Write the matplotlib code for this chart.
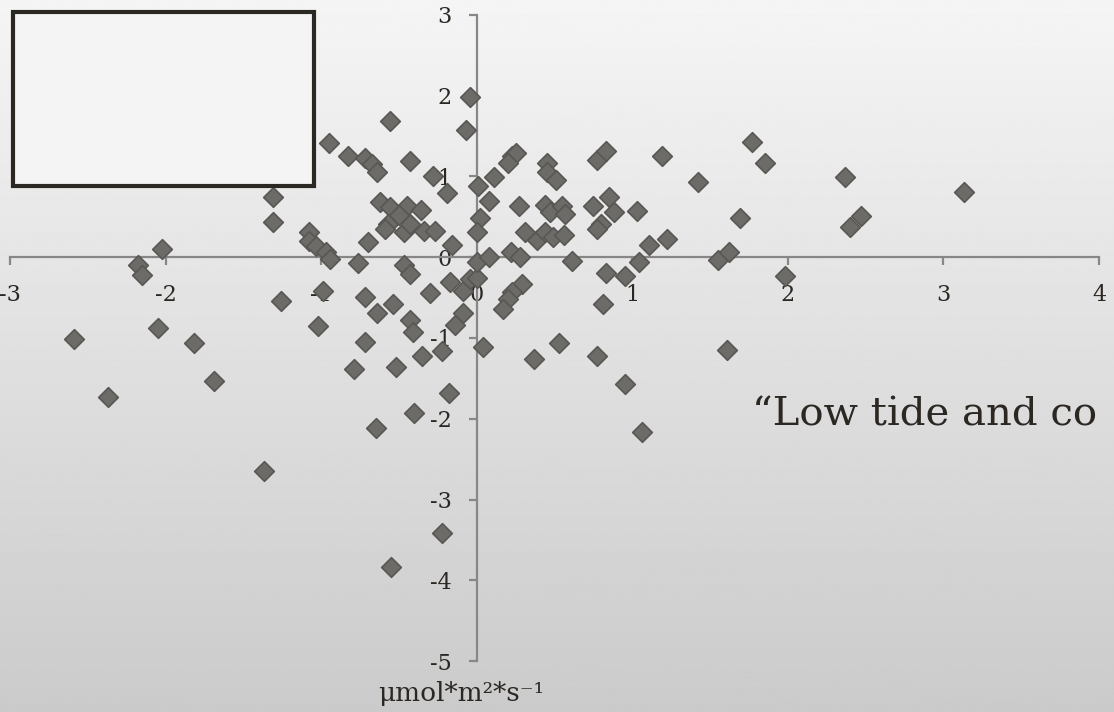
import numpy as np
import matplotlib
matplotlib.use("Agg")
import matplotlib.pyplot as plt
from matplotlib.patches import Rectangle

# scatter values (x, y pairs)
x_vals = [-2.18, -2.15, -2.02, -2.59, -2.37, -2.05, -1.82, -1.69, -1.37, -1.26,
          -1.31, -1.31, -1.02, -0.99, -1.08, -1.08, -1.03, -0.97, -0.94, -0.95,
          -0.83, -0.72, -0.67, -0.64, -0.56, -0.43, -0.28, -0.19, -0.07, -0.04,
          -0.76, -0.72, -0.64, -0.72, -0.79, -0.54, -0.43, -0.41, -0.52, -0.35,
          -0.22, -0.18, -0.40, -0.65, -0.22, -0.55, -0.30, -0.47, -0.43, -0.17,
          -0.09, -0.09, -0.14, 0.04, -0.04, 0.00, 0.00, 0.08, -0.70, -0.62,
          -0.56, -0.45, -0.36, -0.57, -0.59, -0.47, -0.43, -0.34, -0.27, -0.16,
          -0.50, 0.01, 0.11, 0.08, 0.02, 0.00, 0.23, 0.25, 0.20, 0.27,
          0.31, 0.39, 0.44, 0.49, 0.56, 0.22, 0.28, 0.45, 0.45, 0.51,
          0.44, 0.47, 0.55, 0.57, 0.61, 0.75, 0.85, 0.88, 0.80, 0.77,
          0.77, 0.83, 1.03, 1.11, 1.22, 1.19, 1.42, 1.69, 1.77, 1.85,
          1.55, 1.62, 1.98, 2.37, 2.47, 2.40, 3.13, 0.83, 0.95, 1.04,
          0.81, 0.37, 0.53, 0.77, 0.95, 1.06, 1.61, 0.29, 0.23, 0.20,
          0.17]
y_vals = [-0.09, -0.22, 0.10, -1.01, -1.73, -0.88, -1.06, -1.53, -2.65, -0.54,
          0.74, 0.44, -0.85, -0.42, 0.31, 0.20, 0.14, 0.07, -0.02, 1.42,
          1.25, 1.23, 1.15, 1.05, 1.69, 1.19, 1.00, 0.79, 1.57, 1.99,
          -0.07, -0.49, -0.69, -1.05, -1.38, -0.58, -0.78, -0.93, -1.36, -1.22,
          -1.16, -1.68, -1.93, -2.11, -3.42, -3.83, -0.44, -0.10, -0.21, -0.31,
          -0.42, -0.69, -0.84, -1.11, -0.27, -0.26, -0.06, 0.00, 0.19, 0.69,
          0.62, 0.63, 0.59, 0.41, 0.35, 0.31, 0.41, 0.32, 0.32, 0.15,
          0.52, 0.88, 0.99, 0.70, 0.49, 0.31, 1.25, 1.29, 1.17, 0.63,
          0.31, 0.21, 0.31, 0.25, 0.28, 0.07, 0.00, 1.17, 1.06, 0.96,
          0.65, 0.56, 0.63, 0.54, -0.05, 0.63, 0.75, 0.56, 0.41, 0.35,
          1.21, 1.31, 0.57, 0.15, 0.23, 1.25, 0.93, 0.49, 1.43, 1.17,
          -0.04, 0.06, -0.23, 0.99, 0.51, 0.37, 0.81, -0.20, -0.23, -0.06,
          -0.58, -1.26, -1.06, -1.22, -1.57, -2.16, -1.15, -0.33, -0.43, -0.52,
          -0.64]

x_ticks = [-3, -2, -1, 0, 1, 2, 3, 4]
y_ticks = [-5, -4, -3, -2, -1, 0, 1, 2, 3]

unit_label = "μmol*m²*s⁻¹"
note_text = "“Low tide and co"

W, H = 1114, 712
fig = plt.figure(figsize=(W / 100, H / 100), dpi=100)

# gradient background, light at the top, darker grey at the bottom
bg = fig.add_axes([0, 0, 1, 1], zorder=0)
grad = np.linspace(0.96, 0.795, 256).reshape(-1, 1)
bg.imshow(grad, aspect="auto", cmap="gray", vmin=0, vmax=1, extent=[0, 1, 0, 1])
bg.axis("off")

ax = fig.add_axes([10 / W, 51 / H, 1089 / W, 646 / H], zorder=1)
ax.set_facecolor("none")
ax.scatter(x_vals, y_vals, marker="D", s=100, facecolor="#6c6b67",
           edgecolor="#585753", linewidth=1.2, zorder=3, clip_on=False)

ax.set_xlim(-3, 4)
ax.set_ylim(-5, 3)
for side in ["top", "right"]:
    ax.spines[side].set_visible(False)
for side in ["left", "bottom"]:
    ax.spines[side].set_position(("data", 0))
    ax.spines[side].set_color("#878787")
    ax.spines[side].set_linewidth(1.6)

ax.set_xticks(x_ticks)
ax.set_yticks(y_ticks)
ax.set_xticklabels([str(t) for t in x_ticks])
ax.set_yticklabels([str(t) for t in y_ticks])
ax.tick_params(axis="both", colors="#878787", width=1.6, length=6,
               direction="out", labelcolor="#2b2722", labelsize=16)
ax.tick_params(axis="x", pad=13)
ax.tick_params(axis="y", pad=12)
for lab in ax.get_xticklabels() + ax.get_yticklabels():
    lab.set_family("DejaVu Serif")

# empty box in the upper left corner
box = Rectangle((13 / W, 1 - 186 / H), 301 / W, 174 / H, transform=fig.transFigure,
                facecolor="#f4f4f4", edgecolor="#2b2722", linewidth=3.0, zorder=5)
fig.add_artist(box)

fig.text(752 / W, 1 - 425 / H, note_text, fontsize=29, family="DejaVu Serif",
         color="#2b2722", va="baseline", ha="left")
fig.text(378 / W, 1 - 701 / H, unit_label, fontsize=19, family="DejaVu Serif",
         color="#2b2722", va="baseline", ha="left")

fig.savefig("out.png", dpi=100)
